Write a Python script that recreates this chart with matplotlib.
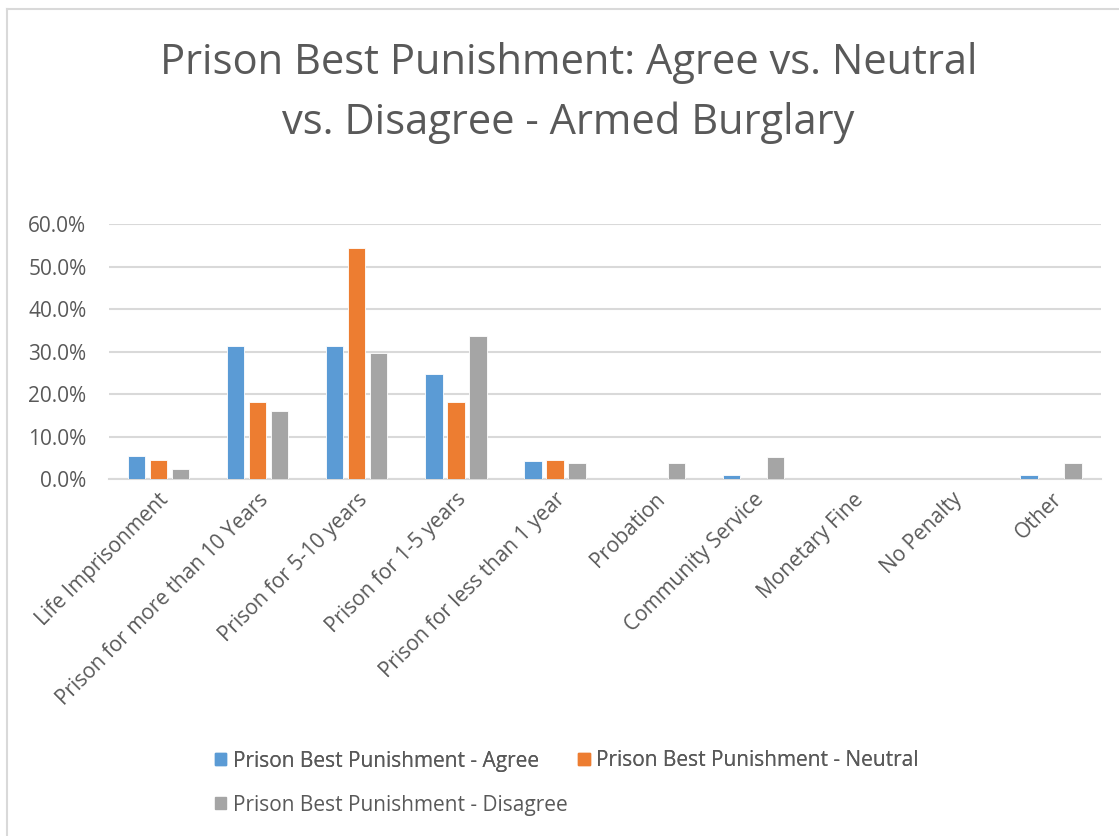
import matplotlib
matplotlib.use("Agg")
import matplotlib.pyplot as plt
from matplotlib.patches import Patch
from matplotlib.ticker import FuncFormatter
import numpy as np

categories = ["Life Imprisonment", "Prison for more than 10 Years", "Prison for 5-10 years",
              "Prison for 1-5 years", "Prison for less than 1 year", "Probation",
              "Community Service", "Monetary Fine", "No Penalty", "Other"]
agree = [5.4, 31.3, 31.3, 24.7, 4.3, 0.0, 0.9, 0.0, 0.0, 0.9]
neutral = [4.5, 18.2, 54.5, 18.2, 4.5, 0.0, 0.0, 0.0, 0.0, 0.0]
disagree = [2.5, 16.1, 29.6, 33.7, 3.8, 3.8, 5.2, 0.0, 0.0, 3.8]
series_names = ["Prison Best Punishment - Agree", "Prison Best Punishment - Neutral",
                "Prison Best Punishment - Disagree"]
colors = ["#5B9BD5", "#ED7D31", "#A5A5A5"]
title_lines = ["Prison Best Punishment: Agree vs. Neutral", "vs. Disagree - Armed Burglary"]

FONT = "Open Sans"
TXT = "#595959"
plt.rcParams['font.family'] = [FONT, 'DejaVu Sans']

W, H = 1119, 836
fig = plt.figure(figsize=(W / 100, H / 100), dpi=100)
ax = fig.add_axes([0.0971, 0.4267, 0.8865, 0.305])

x = np.arange(len(categories))
w = 0.175
step = 0.222
for i, (vals, c, n) in enumerate(zip([agree, neutral, disagree], colors, series_names)):
    ax.bar(x + (i - 1) * step, np.array(vals) / 100.0, width=w, color=c,
           edgecolor="white", linewidth=0.6, label=n, zorder=3)

ax.set_xlim(-0.5, len(categories) - 0.5)
ax.set_ylim(0, 0.6)
ax.set_yticks(np.arange(0, 0.61, 0.1))
ax.yaxis.set_major_formatter(FuncFormatter(lambda v, p: f"{v*100:.1f}%"))
ax.grid(axis="y", color="#D9D9D9", linewidth=1.5, zorder=0)
for s in ["top", "right", "left"]:
    ax.spines[s].set_visible(False)
ax.spines["bottom"].set_color("#D9D9D9")
ax.spines["bottom"].set_linewidth(1.5)
ax.tick_params(axis="both", length=0, colors=TXT, labelsize=15)
ax.tick_params(axis="y", pad=16)
ax.set_xticks(x)
ax.set_xticklabels(categories, rotation=45, ha="right", rotation_mode="anchor")
ax.tick_params(axis="x", pad=7)

# title, two lines with explicit baselines
fig.text(0.508, 1 - 74 / H, title_lines[0], ha="center", va="baseline", fontsize=30, color=TXT)
fig.text(0.508, 1 - 134 / H, title_lines[1], ha="center", va="baseline", fontsize=30, color=TXT)

handles = [Patch(color=c) for c in colors]
leg_kw = dict(frameon=False, fontsize=15, labelcolor=TXT, handlelength=0.55,
              handleheight=0.55, handletextpad=0.3, borderpad=0, borderaxespad=0,
              loc="center left")
leg1 = fig.legend(handles[:2], series_names[:2], ncol=2, columnspacing=1.9,
                  bbox_to_anchor=(215 / W, 1 - 761 / H), **leg_kw)
fig.add_artist(leg1)
fig.legend(handles[2:], series_names[2:], ncol=1,
           bbox_to_anchor=(215 / W, 1 - 805 / H), **leg_kw)

# chart border
fig.add_artist(plt.Line2D([7 / W, 7 / W], [0, 1 - 9 / H], transform=fig.transFigure,
                          color="#D9D9D9", linewidth=1.5))
fig.add_artist(plt.Line2D([7 / W, 1], [1 - 9 / H, 1 - 9 / H], transform=fig.transFigure,
                          color="#D9D9D9", linewidth=1.5))

fig.savefig("out.png", dpi=100)
